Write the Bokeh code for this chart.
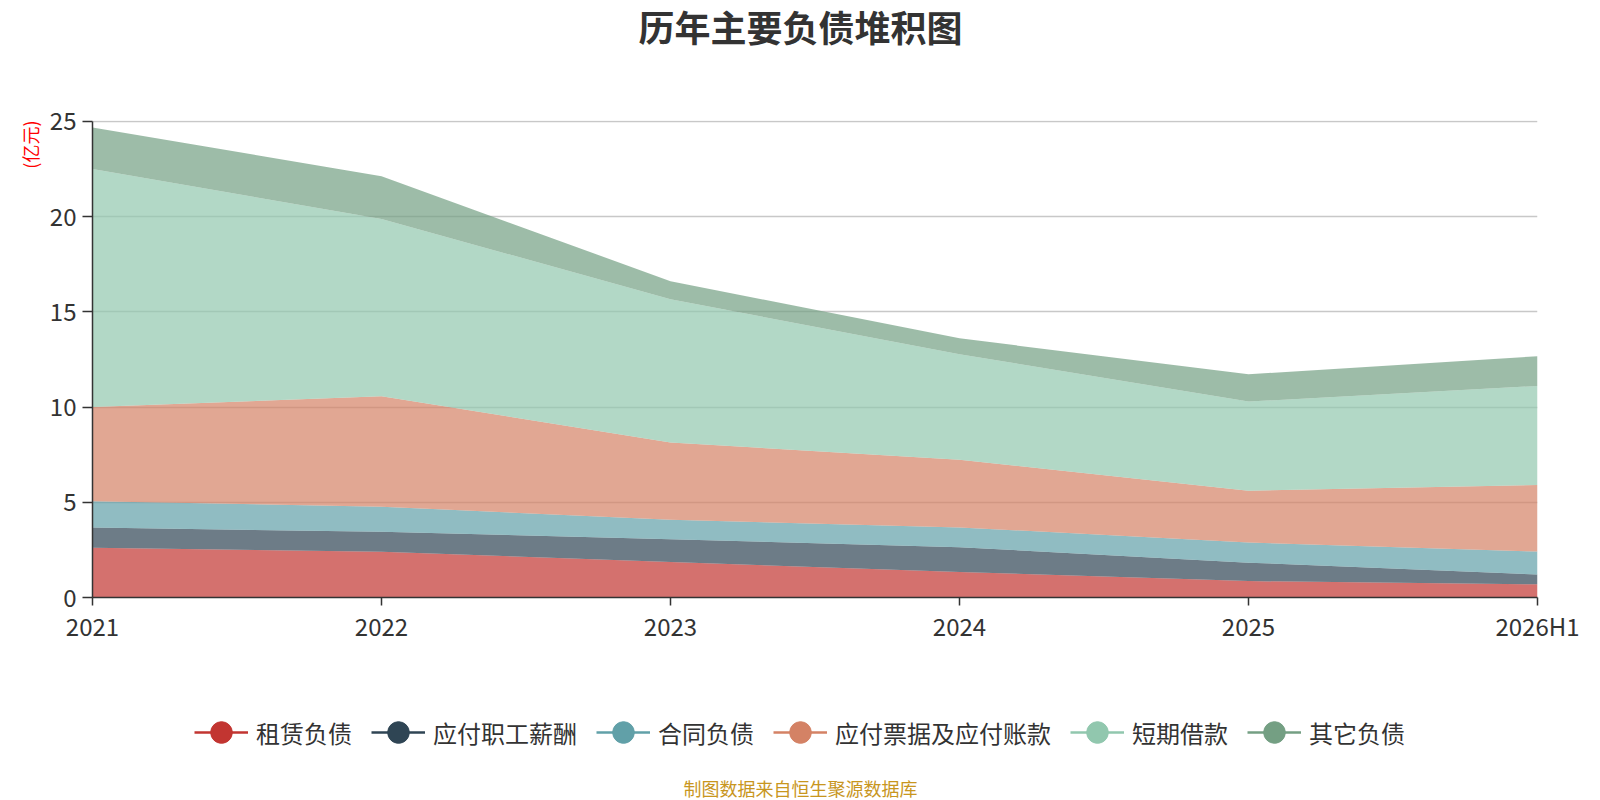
from bokeh.plotting import figure
from bokeh.layouts import column
from bokeh.models import (ColumnDataSource, Range1d, FixedTicker, Label, Legend, LegendItem, Title)
from bokeh.embed import file_html
from bokeh.resources import INLINE

# ---- data ----
periods = ["2021", "2022", "2023", "2024", "2025", "2026H1"]
series_names = ["租赁负债", "应付职工薪酬", "合同负债", "应付票据及应付账款", "短期借款", "其它负债"]
lease = [2.61, 2.40, 1.86, 1.34, 0.86, 0.69]
payroll = [1.06, 1.05, 1.20, 1.30, 0.97, 0.52]
contract = [1.38, 1.32, 1.02, 1.04, 1.06, 1.20]
payables = [4.95, 5.80, 4.06, 3.56, 2.72, 3.50]
short_loans = [12.50, 9.31, 7.52, 5.54, 4.68, 5.20]
other = [2.18, 2.24, 0.95, 0.83, 1.43, 1.56]
colors = ["#c23531", "#2f4554", "#61a0a8", "#d48265", "#91c7ae", "#749f83"]
y_ticks = [0, 5, 10, 15, 20, 25]

FONT = "Noto Sans CJK SC"
W = 1600
TOP_H = 100
BL, BR, BT, BB = 92, 63, 20, 45
FRAME_H = 480
MAIN_H = BT + FRAME_H + BB
BOT_H = 800 - TOP_H - MAIN_H
CX = W / 2 - BL  # page centre, relative to the (aligned) frame left

keys = ["s0", "s1", "s2", "s3", "s4", "s5"]
series = [lease, payroll, contract, payables, short_loans, other]
data = {"x": list(range(len(periods)))}
for k, vals in zip(keys, series):
    data[k] = vals
src = ColumnDataSource(data)


def blank(h):
    f = figure(width=W, height=h, output_backend="svg", toolbar_location=None,
               x_axis_type=None, y_axis_type=None, x_range=Range1d(0, 1), y_range=Range1d(100, 101),
               min_border=0)
    f.outline_line_color = None
    f.grid.grid_line_color = None
    return f


# ---- title strip ----
top = blank(TOP_H)
top.add_layout(Label(x=CX, y=TOP_H - 25, x_units="screen", y_units="screen", text="历年主要负债堆积图",
                     text_font=FONT, text_font_size="36px", text_font_style="bold",
                     text_color="#333333", text_align="center", text_baseline="middle"))

# ---- main chart ----
p = figure(width=W, height=MAIN_H, output_backend="svg", toolbar_location=None,
           x_range=Range1d(0, len(periods) - 1), y_range=Range1d(0, 25.05),
           min_border_left=BL, min_border_right=BR, min_border_top=BT, min_border_bottom=BB)
p.outline_line_color = None
p.varea_stack(stackers=keys, x="x", source=src, color=colors, fill_alpha=0.7)

p.xaxis.ticker = FixedTicker(ticks=list(range(len(periods))))
p.xaxis.major_label_overrides = {i: s for i, s in enumerate(periods)}
p.yaxis.ticker = FixedTicker(ticks=y_ticks)
p.yaxis.bounds = (0, 25)
for ax in (p.xaxis[0], p.yaxis[0]):
    ax.axis_line_color = "#333333"
    ax.axis_line_width = 1.5
    ax.major_tick_line_color = "#333333"
    ax.major_tick_line_width = 1.5
    ax.major_tick_in = 0
    ax.minor_tick_line_color = None
    ax.major_label_text_font = FONT
    ax.major_label_text_font_size = "24px"
    ax.major_label_text_color = "#333333"
p.xaxis.major_tick_out = 8
p.yaxis.major_tick_out = 10
p.xaxis.major_label_standoff = 2
p.yaxis.major_label_standoff = 6
p.xgrid.grid_line_color = None
p.ygrid.grid_line_color = "#c8c8c8"
p.ygrid.grid_line_width = 1.5

p.add_layout(Title(text="(亿元)", align="right", text_font=FONT, text_font_size="18px",
                   text_font_style="normal", text_color="#ff0000", standoff=8), "left")

# ---- legend + footer strip ----
bot = blank(BOT_H)
items = []
for name, c, k in zip(series_names, colors, keys):
    r1 = bot.line(x="x", y=k, source=src, line_color=c, line_width=2.5)
    r2 = bot.scatter(x="x", y=k, source=src, marker="circle", size=22, fill_color=c, line_color=c)
    items.append(LegendItem(label=name, renderers=[r1, r2]))
GH = 56
legend = Legend(items=items, orientation="horizontal",
                location=(194 - BL, 800 - 732 - GH // 2),
                label_text_font=FONT, label_text_font_size="24px", label_text_color="#333333",
                glyph_width=54, glyph_height=GH, label_standoff=8, spacing=19, padding=0, margin=0,
                border_line_color=None, background_fill_alpha=0)
bot.add_layout(legend, "center")
bot.add_layout(Label(x=CX, y=13, x_units="screen", y_units="screen",
                     text="制图数据来自恒生聚源数据库",
                     text_font=FONT, text_font_size="18px", text_color="#c8961e",
                     text_align="center", text_baseline="middle"))

layout = column(top, p, bot, spacing=0)
open("out.html", "w").write(file_html(layout, INLINE))
